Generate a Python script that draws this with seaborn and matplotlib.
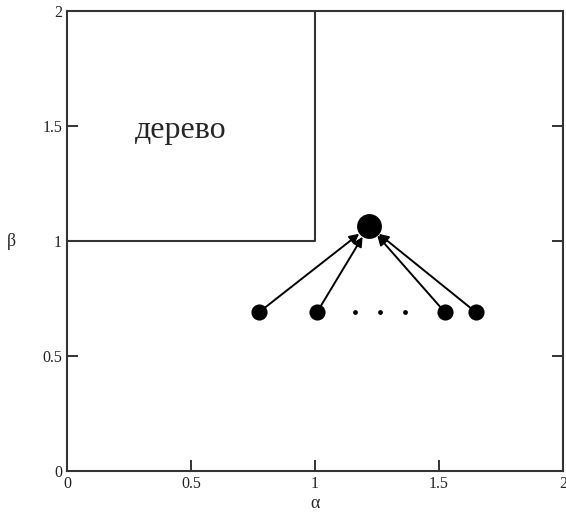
import matplotlib
matplotlib.use("Agg")
import matplotlib.pyplot as plt
import seaborn as sns
import pandas as pd

# data
src_x = [0.774, 1.008, 1.524, 1.649]
src_y = [0.69, 0.69, 0.69, 0.69]
dot_x = [1.161, 1.262, 1.363]
dot_y = [0.69, 0.69, 0.69]
hub_x = [1.218]
hub_y = [1.065]
region_x = [0, 1, 1]
region_y = [1, 1, 2]
ticks = [0, 0.5, 1, 1.5, 2]
tick_labels = ["0", "0.5", "1", "1.5", "2"]

sns.set_style("white")
plt.rcParams['font.family'] = ['Liberation Serif', 'DejaVu Serif']

fig = plt.figure(figsize=(5.66, 5.26), dpi=100)
ax = fig.add_axes([67/566, 1-471/526, 496/566, 460/526])

ax.plot(region_x, region_y, color="#333333", lw=1.5)

for sx, sy in zip(src_x, src_y):
    ax.annotate("", xy=(hub_x[0], hub_y[0]), xytext=(sx, sy),
                arrowprops=dict(arrowstyle="-|>", color="black", lw=1.4,
                                mutation_scale=14, shrinkA=4, shrinkB=9))

src = pd.DataFrame({"x": src_x, "y": src_y})
sns.scatterplot(data=src, x="x", y="y", ax=ax, color="black", s=135,
                marker="o", edgecolor="black", linewidth=0, zorder=5)
dots = pd.DataFrame({"x": dot_x, "y": dot_y})
sns.scatterplot(data=dots, x="x", y="y", ax=ax, color="black", s=12,
                edgecolor="black", linewidth=0, zorder=5)
hub = pd.DataFrame({"x": hub_x, "y": hub_y})
sns.scatterplot(data=hub, x="x", y="y", ax=ax, color="black", s=320,
                edgecolor="black", linewidth=0, zorder=5)

ax.text(0.46, 1.448, "дерево", fontsize=23, ha="center", va="baseline")

ax.set_xlim(0, 2)
ax.set_ylim(0, 2)
ax.set_xticks(ticks)
ax.set_xticklabels(tick_labels)
ax.set_yticks(ticks)
ax.set_yticklabels(tick_labels)
ax.tick_params(direction="in", length=8, width=1.3, labelsize=11.5,
               right=True, left=True, bottom=True, top=False, colors="#222222")
ax.set_xlabel("α", fontsize=13, labelpad=2)
ax.set_ylabel("β", fontsize=13, rotation=0, labelpad=22, va="center")
for s in ax.spines.values():
    s.set_color("#333333")
    s.set_linewidth(1.5)

fig.savefig("out.png", dpi=100)
